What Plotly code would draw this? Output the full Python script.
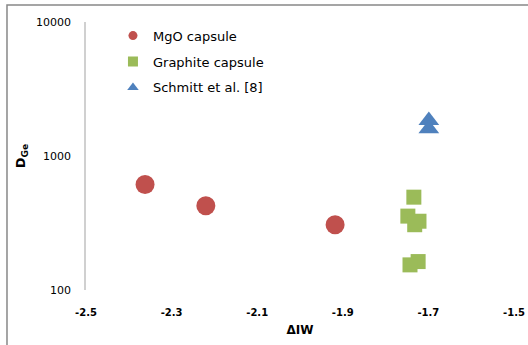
import plotly.graph_objects as go

# Data
mgo_x = [-2.362, -2.220, -1.918]
mgo_y = [612, 425, 307]

gr_x = [-1.734, -1.748, -1.722, -1.732, -1.724, -1.743]
gr_y = [493, 356, 326, 307, 163, 154]

sch_x = [-1.699, -1.699]
sch_y = [1840, 1600]

x_ticks = [-2.5, -2.3, -2.1, -1.9, -1.7, -1.5]
x_tick_labels = ["-2.5", "-2.3", "-2.1", "-1.9", "-1.7", "-1.5"]
y_ticks = [100, 1000, 10000]
y_tick_labels = ["100", "1000", "10000"]

names = ["MgO capsule", "Graphite capsule", "Schmitt et al. [8]"]
colors = ["#c0504d", "#9bbb59", "#4f81bd"]
symbols = ["circle", "square", "triangle-up"]
sizes = [19, 15, 18]
legend_sizes = [9, 10, 10]

FONT = "DejaVu Sans"

fig = go.Figure()
series = [(mgo_x, mgo_y), (gr_x, gr_y), (sch_x, sch_y)]
for (xs, ys), name, c, s, sz in zip(series, names, colors, symbols, sizes):
    fig.add_trace(go.Scatter(
        x=xs, y=ys, mode="markers", name=name, showlegend=False,
        marker=dict(color=c, symbol=s, size=sz, line=dict(width=0)),
    ))
# legend-only entries with small markers
for i, (name, c, s, lsz) in enumerate(zip(names, colors, symbols, legend_sizes)):
    fig.add_trace(go.Scatter(
        x=[None], y=[None], mode="markers", name=name, legendgroup=f"g{i}",
        marker=dict(color=c, symbol=s, size=lsz, line=dict(width=0)),
    ))

fig.update_layout(
    width=528, height=345,
    margin=dict(l=86, r=14, t=22, b=55, autoexpand=False),
    paper_bgcolor="white", plot_bgcolor="white",
    font=dict(family=FONT, size=11, color="#000000"),
    showlegend=True,
    legend=dict(
        x=0.063, y=1.005, xanchor="left", yanchor="top",
        bgcolor="rgba(0,0,0,0)", borderwidth=0,
        font=dict(family=FONT, size=13, color="#000000"),
        tracegroupgap=6, itemsizing="trace",
    ),
    xaxis=dict(
        range=[-2.5, -1.5], tickvals=x_ticks, ticktext=x_tick_labels,
        showgrid=False, zeroline=False, showline=False, ticks="",
        tickfont=dict(family=FONT, size=10, color="#000000", weight="bold"),
        ticklabelstandoff=15,
        title=dict(text="<b>ΔIW</b>", font=dict(family=FONT, size=12), standoff=8),
        automargin=False,
    ),
    yaxis=dict(
        type="log", range=[2, 4], tickvals=y_ticks, ticktext=y_tick_labels,
        showgrid=False, zeroline=False, showline=True, linecolor="#d0d0d0",
        linewidth=1.5, ticks="",
        tickfont=dict(family=FONT, size=11, color="#000000"),
        ticklabelstandoff=11,
        title=dict(text="<b>D<sub>Ge</sub></b>", font=dict(family=FONT, size=13), standoff=7),
        automargin=False,
    ),
    shapes=[dict(
        type="rect", xref="paper", yref="paper",
        x0=-0.1846, x1=1.06, y0=-0.26, y1=1.0634,
        line=dict(color="#888888", width=1.5), fillcolor="rgba(0,0,0,0)", layer="below",
    )],
)

fig.write_html("out.html")
